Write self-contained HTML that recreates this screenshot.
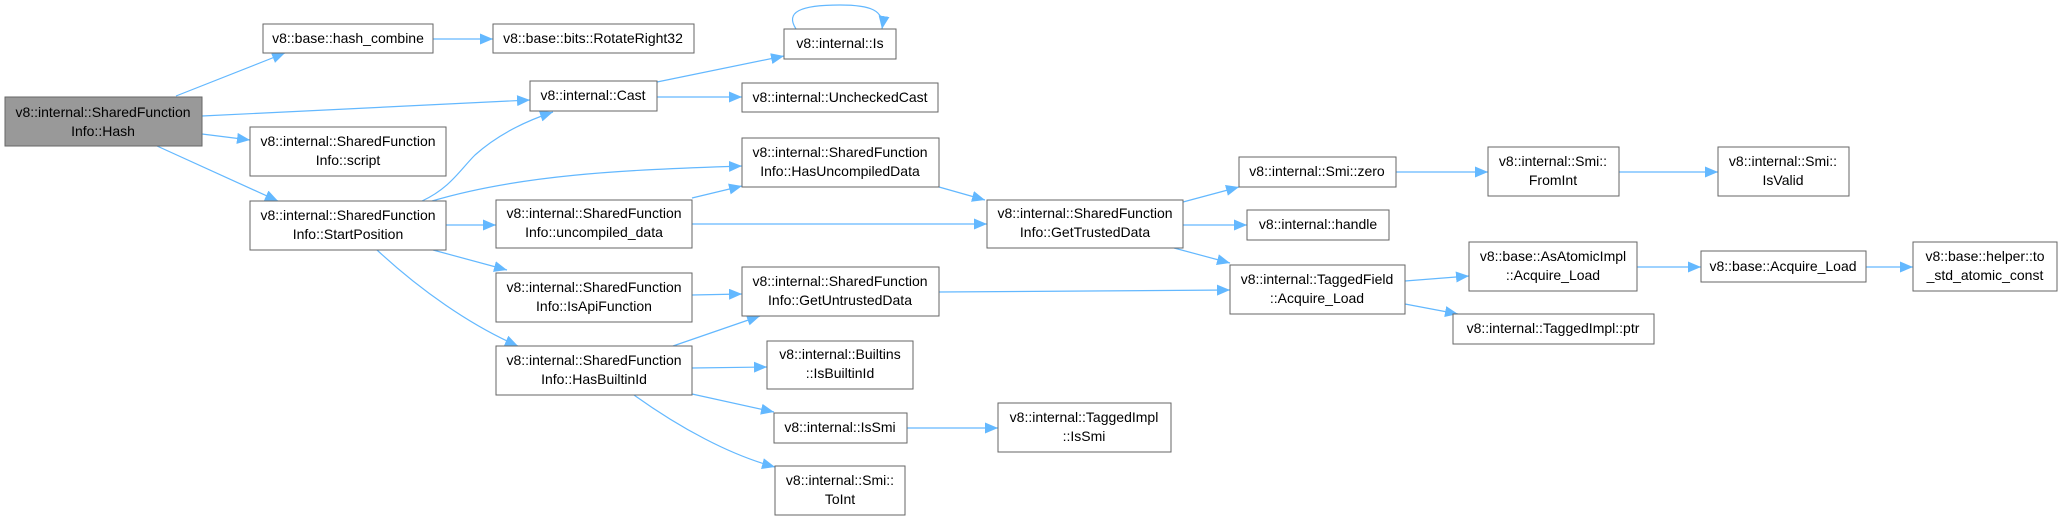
<!DOCTYPE html>
<html><head><meta charset="utf-8"><style>
html,body{margin:0;padding:0;background:#fff;}
svg{display:block;}
text{font-family:"Liberation Sans",sans-serif;font-size:14px;fill:#000;text-anchor:middle;}
.b{fill:#fff;stroke:#666;stroke-width:1;}
.e{fill:none;stroke:#63b8ff;stroke-width:1.2;}
</style></head><body>
<svg width="2063" height="521" viewBox="0 0 2063 521" xmlns="http://www.w3.org/2000/svg">
<defs><marker id="a" markerUnits="userSpaceOnUse" markerWidth="15" markerHeight="12" refX="13" refY="5.5" orient="auto"><path d="M0,0 L13,5.5 L0,11 Z" fill="#63b8ff"/></marker></defs>
<g class="e" marker-end="url(#a)">
<path d="M176,96 L285,53"/>
<path d="M202,116 L530,100"/>
<path d="M202,134 L250,140"/>
<path d="M157,146 L278,201"/>
<path d="M433,39 L493,39"/>
<path d="M657,82 L784,56"/>
<path d="M657,97 L742,97"/>
<path d="M422,201 C450,188 460,170 475,155 C495,137 520,123 553,112"/>
<path d="M432,201 C520,175 620,170 742,166"/>
<path d="M446,225 L496,225"/>
<path d="M433,250 L507,270"/>
<path d="M377,250 C420,290 470,325 518,346"/>
<path d="M692,198 L742,186"/>
<path d="M692,224 L987,224"/>
<path d="M939,187 L985,200"/>
<path d="M692,295 L742,294"/>
<path d="M673,346 L760,316"/>
<path d="M692,368 L767,367"/>
<path d="M692,394 L774,412"/>
<path d="M634,395 C680,428 730,455 775,467"/>
<path d="M1183,202 L1239,187"/>
<path d="M1183,225 L1247,225"/>
<path d="M1174,248 L1230,263"/>
<path d="M939,292 L1230,290"/>
<path d="M1396,172 L1488,172"/>
<path d="M1619,172 L1718,172"/>
<path d="M1405,281 L1469,276"/>
<path d="M1405,304 L1458,314"/>
<path d="M1637,267 L1701,267"/>
<path d="M1866,267 L1913,267"/>
<path d="M907,428 L998,428"/>
<path d="M796,29 C785,12 800,5 840,5 C870,5 885,10 882,29"/>
</g>
<rect x="5" y="97" width="197" height="49" fill="#999" stroke="#666"/>
<text x="103" y="117">v8::internal::SharedFunction</text><text x="103" y="136">Info::Hash</text>
<rect class="b" x="263" y="24" width="170" height="29"/><text x="348" y="43">v8::base::hash_combine</text>
<rect class="b" x="493" y="24" width="201" height="29"/><text x="593" y="43">v8::base::bits::RotateRight32</text>
<rect class="b" x="530" y="81" width="127" height="30"/><text x="593" y="100">v8::internal::Cast</text>
<rect class="b" x="250" y="127" width="196" height="49"/><text x="348" y="146">v8::internal::SharedFunction</text><text x="348" y="165">Info::script</text>
<rect class="b" x="250" y="201" width="196" height="49"/><text x="348" y="220">v8::internal::SharedFunction</text><text x="348" y="239">Info::StartPosition</text>
<rect class="b" x="496" y="200" width="196" height="48"/><text x="594" y="218">v8::internal::SharedFunction</text><text x="594" y="237">Info::uncompiled_data</text>
<rect class="b" x="496" y="273" width="196" height="49"/><text x="594" y="292">v8::internal::SharedFunction</text><text x="594" y="311">Info::IsApiFunction</text>
<rect class="b" x="496" y="346" width="196" height="49"/><text x="594" y="365">v8::internal::SharedFunction</text><text x="594" y="384">Info::HasBuiltinId</text>
<rect class="b" x="784" y="29" width="112" height="30"/><text x="840" y="48">v8::internal::Is</text>
<rect class="b" x="742" y="83" width="196" height="29"/><text x="840" y="102">v8::internal::UncheckedCast</text>
<rect class="b" x="742" y="138" width="197" height="49"/><text x="840" y="157">v8::internal::SharedFunction</text><text x="840" y="176">Info::HasUncompiledData</text>
<rect class="b" x="742" y="267" width="197" height="49"/><text x="840" y="286">v8::internal::SharedFunction</text><text x="840" y="305">Info::GetUntrustedData</text>
<rect class="b" x="767" y="341" width="146" height="48"/><text x="840" y="359">v8::internal::Builtins</text><text x="840" y="378">::IsBuiltinId</text>
<rect class="b" x="774" y="413" width="133" height="30"/><text x="840" y="432">v8::internal::IsSmi</text>
<rect class="b" x="775" y="466" width="130" height="49"/><text x="840" y="485">v8::internal::Smi::</text><text x="840" y="504">ToInt</text>
<rect class="b" x="987" y="200" width="196" height="48"/><text x="1085" y="218">v8::internal::SharedFunction</text><text x="1085" y="237">Info::GetTrustedData</text>
<rect class="b" x="998" y="403" width="173" height="49"/><text x="1084" y="422">v8::internal::TaggedImpl</text><text x="1084" y="441">::IsSmi</text>
<rect class="b" x="1239" y="157" width="157" height="30"/><text x="1317" y="176">v8::internal::Smi::zero</text>
<rect class="b" x="1247" y="210" width="142" height="30"/><text x="1318" y="229">v8::internal::handle</text>
<rect class="b" x="1230" y="265" width="175" height="49"/><text x="1317" y="284">v8::internal::TaggedField</text><text x="1317" y="303">::Acquire_Load</text>
<rect class="b" x="1488" y="147" width="131" height="49"/><text x="1553" y="166">v8::internal::Smi::</text><text x="1553" y="185">FromInt</text>
<rect class="b" x="1718" y="147" width="131" height="49"/><text x="1783" y="166">v8::internal::Smi::</text><text x="1783" y="185">IsValid</text>
<rect class="b" x="1469" y="242" width="168" height="49"/><text x="1553" y="261">v8::base::AsAtomicImpl</text><text x="1553" y="280">::Acquire_Load</text>
<rect class="b" x="1453" y="314" width="201" height="30"/><text x="1553" y="333">v8::internal::TaggedImpl::ptr</text>
<rect class="b" x="1701" y="251" width="165" height="31"/><text x="1783" y="271">v8::base::Acquire_Load</text>
<rect class="b" x="1913" y="242" width="144" height="49"/><text x="1985" y="261">v8::base::helper::to</text><text x="1985" y="280">_std_atomic_const</text>
</svg>
</body></html>
